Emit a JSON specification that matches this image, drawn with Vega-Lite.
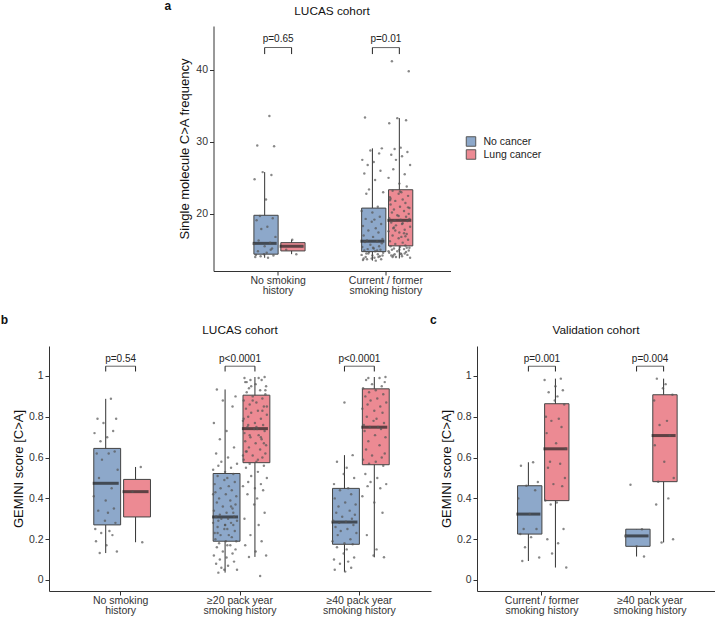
{
"$schema": "https://vega.github.io/schema/vega-lite/v6.json",
"padding": {"left": 0, "top": 0, "right": 0, "bottom": 0},
"config": {
 "font": "Liberation Sans",
 "view": {"stroke": null},
 "axis": {"grid": false, "domainColor": "#333", "tickColor": "#333", "labelColor": "#333", "titleColor": "#111", "labelFontSize": 10.5, "titleFontSize": 13, "titleFontWeight": "normal", "tickSize": 4, "labelFont": "Liberation Sans", "titleFont": "Liberation Sans"},
 "title": {"fontSize": 11.8, "fontWeight": "normal", "color": "#111", "font": "Liberation Sans"},
 "legend": {"labelFontSize": 10.5, "labelColor": "#222", "labelFont": "Liberation Sans", "layout": {"right": {"anchor": "middle"}}}
},
"datasets": {
 "aStats": [
  {"g":"NS","s":"N","lo":13.9,"q1":14.4,"med":15.9,"q3":19.8,"hi":25.8,"p":"p=0.65"},
  {"g":"NS","s":"L","lo":14.4,"q1":14.85,"med":15.5,"q3":16.0,"hi":16.4,"p":"p=0.65"},
  {"g":"CF","s":"N","lo":13.5,"q1":14.75,"med":16.2,"q3":20.8,"hi":29.1,"p":"p=0.01"},
  {"g":"CF","s":"L","lo":13.8,"q1":15.55,"med":19.1,"q3":23.35,"hi":33.3,"p":"p=0.01"}
 ],
 "aPts": [
  {"g":"NS","s":"N","v":33.6,"j":0.35},{"g":"NS","s":"N","v":29.5,"j":-0.55},{"g":"NS","s":"N","v":29.4,"j":0.7},{"g":"NS","s":"N","v":25.8,"j":-0.15},{"g":"NS","s":"N","v":25.4,"j":0.5},{"g":"NS","s":"N","v":24.8,"j":-0.75},{"g":"NS","s":"N","v":22.0,"j":0.1},{"g":"NS","s":"N","v":19.7,"j":-0.35},{"g":"NS","s":"N","v":19.4,"j":0.6},{"g":"NS","s":"N","v":19.1,"j":-0.6},{"g":"NS","s":"N","v":18.2,"j":0.2},{"g":"NS","s":"N","v":17.9,"j":-0.25},{"g":"NS","s":"N","v":16.8,"j":0.8},{"g":"NS","s":"N","v":16.3,"j":-0.45},{"g":"NS","s":"N","v":16.0,"j":0.4},{"g":"NS","s":"N","v":15.8,"j":-0.8},{"g":"NS","s":"N","v":15.5,"j":0.0},{"g":"NS","s":"N","v":15.2,"j":0.55},{"g":"NS","s":"N","v":14.8,"j":-0.5},{"g":"NS","s":"N","v":14.6,"j":0.15},{"g":"NS","s":"N","v":14.4,"j":-0.05},{"g":"NS","s":"N","v":14.2,"j":0.65},{"g":"NS","s":"N","v":14.0,"j":-0.7},{"g":"NS","s":"N","v":13.9,"j":0.25},{"g":"NS","s":"N","v":14.1,"j":-0.3},{"g":"NS","s":"N","v":15.0,"j":0.45},{"g":"NS","s":"N","v":14.3,"j":-0.65},
  {"g":"NS","s":"L","v":16.4,"j":0.05},{"g":"NS","s":"L","v":15.5,"j":0.75},{"g":"NS","s":"L","v":15.0,"j":-0.4},{"g":"NS","s":"L","v":14.4,"j":0.35},
  {"g":"CF","s":"N","v":33.4,"j":-0.55},{"g":"CF","s":"N","v":29.1,"j":0.7},{"g":"CF","s":"N","v":28.8,"j":-0.15},{"g":"CF","s":"N","v":28.4,"j":0.5},{"g":"CF","s":"N","v":27.5,"j":-0.75},{"g":"CF","s":"N","v":27.2,"j":0.1},{"g":"CF","s":"N","v":26.8,"j":-0.35},{"g":"CF","s":"N","v":26.0,"j":0.6},{"g":"CF","s":"N","v":25.6,"j":-0.6},{"g":"CF","s":"N","v":24.7,"j":0.2},{"g":"CF","s":"N","v":23.4,"j":-0.25},{"g":"CF","s":"N","v":23.0,"j":0.8},{"g":"CF","s":"N","v":22.8,"j":-0.45},{"g":"CF","s":"N","v":21.0,"j":0.4},{"g":"CF","s":"N","v":20.4,"j":-0.8},{"g":"CF","s":"N","v":20.2,"j":0.0},{"g":"CF","s":"N","v":19.6,"j":0.55},{"g":"CF","s":"N","v":19.3,"j":-0.5},{"g":"CF","s":"N","v":19.2,"j":0.15},{"g":"CF","s":"N","v":18.9,"j":-0.05},{"g":"CF","s":"N","v":18.6,"j":0.65},{"g":"CF","s":"N","v":18.3,"j":-0.7},{"g":"CF","s":"N","v":18.0,"j":0.25},{"g":"CF","s":"N","v":17.7,"j":-0.3},{"g":"CF","s":"N","v":17.4,"j":0.45},{"g":"CF","s":"N","v":17.0,"j":-0.65},{"g":"CF","s":"N","v":16.8,"j":0.05},{"g":"CF","s":"N","v":16.5,"j":0.75},{"g":"CF","s":"N","v":16.3,"j":-0.4},{"g":"CF","s":"N","v":16.2,"j":0.35},{"g":"CF","s":"N","v":16.1,"j":-0.55},{"g":"CF","s":"N","v":15.9,"j":0.7},{"g":"CF","s":"N","v":15.7,"j":-0.15},{"g":"CF","s":"N","v":15.5,"j":0.5},{"g":"CF","s":"N","v":15.4,"j":-0.75},{"g":"CF","s":"N","v":15.2,"j":0.1},{"g":"CF","s":"N","v":15.1,"j":-0.35},{"g":"CF","s":"N","v":15.0,"j":0.6},{"g":"CF","s":"N","v":14.9,"j":-0.6},{"g":"CF","s":"N","v":14.8,"j":0.2},{"g":"CF","s":"N","v":14.7,"j":-0.25},{"g":"CF","s":"N","v":14.6,"j":0.8},{"g":"CF","s":"N","v":14.5,"j":-0.45},{"g":"CF","s":"N","v":14.4,"j":0.4},{"g":"CF","s":"N","v":14.3,"j":-0.8},{"g":"CF","s":"N","v":14.2,"j":0.0},{"g":"CF","s":"N","v":14.1,"j":0.55},{"g":"CF","s":"N","v":14.0,"j":-0.5},{"g":"CF","s":"N","v":13.9,"j":0.15},{"g":"CF","s":"N","v":13.8,"j":-0.05},{"g":"CF","s":"N","v":13.7,"j":0.65},{"g":"CF","s":"N","v":13.6,"j":-0.7},{"g":"CF","s":"N","v":13.5,"j":0.25},{"g":"CF","s":"N","v":14.5,"j":-0.3},{"g":"CF","s":"N","v":14.0,"j":0.45},{"g":"CF","s":"N","v":13.8,"j":-0.65},{"g":"CF","s":"N","v":15.3,"j":0.05},{"g":"CF","s":"N","v":14.2,"j":0.75},{"g":"CF","s":"N","v":13.7,"j":-0.4},{"g":"CF","s":"N","v":14.9,"j":0.35},
  {"g":"CF","s":"L","v":41.2,"j":-0.55},{"g":"CF","s":"L","v":39.8,"j":0.7},{"g":"CF","s":"L","v":33.3,"j":-0.15},{"g":"CF","s":"L","v":33.0,"j":0.5},{"g":"CF","s":"L","v":32.6,"j":-0.75},{"g":"CF","s":"L","v":29.2,"j":0.1},{"g":"CF","s":"L","v":29.0,"j":-0.35},{"g":"CF","s":"L","v":28.6,"j":0.6},{"g":"CF","s":"L","v":28.2,"j":-0.6},{"g":"CF","s":"L","v":28.0,"j":0.2},{"g":"CF","s":"L","v":27.5,"j":-0.25},{"g":"CF","s":"L","v":26.8,"j":0.8},{"g":"CF","s":"L","v":26.2,"j":-0.45},{"g":"CF","s":"L","v":25.5,"j":0.4},{"g":"CF","s":"L","v":25.0,"j":-0.8},{"g":"CF","s":"L","v":24.2,"j":0.0},{"g":"CF","s":"L","v":23.8,"j":0.55},{"g":"CF","s":"L","v":23.2,"j":-0.5},{"g":"CF","s":"L","v":23.0,"j":0.15},{"g":"CF","s":"L","v":22.8,"j":-0.05},{"g":"CF","s":"L","v":22.5,"j":0.65},{"g":"CF","s":"L","v":22.3,"j":-0.7},{"g":"CF","s":"L","v":22.0,"j":0.25},{"g":"CF","s":"L","v":21.8,"j":-0.3},{"g":"CF","s":"L","v":21.5,"j":0.45},{"g":"CF","s":"L","v":21.3,"j":-0.65},{"g":"CF","s":"L","v":21.0,"j":0.05},{"g":"CF","s":"L","v":20.8,"j":0.75},{"g":"CF","s":"L","v":20.6,"j":-0.4},{"g":"CF","s":"L","v":20.4,"j":0.35},{"g":"CF","s":"L","v":20.2,"j":-0.55},{"g":"CF","s":"L","v":20.0,"j":0.7},{"g":"CF","s":"L","v":19.8,"j":-0.15},{"g":"CF","s":"L","v":19.6,"j":0.5},{"g":"CF","s":"L","v":19.4,"j":-0.75},{"g":"CF","s":"L","v":19.2,"j":0.1},{"g":"CF","s":"L","v":19.1,"j":-0.35},{"g":"CF","s":"L","v":19.0,"j":0.6},{"g":"CF","s":"L","v":18.8,"j":-0.6},{"g":"CF","s":"L","v":18.6,"j":0.2},{"g":"CF","s":"L","v":18.4,"j":-0.25},{"g":"CF","s":"L","v":18.2,"j":0.8},{"g":"CF","s":"L","v":18.0,"j":-0.45},{"g":"CF","s":"L","v":17.8,"j":0.4},{"g":"CF","s":"L","v":17.6,"j":-0.8},{"g":"CF","s":"L","v":17.4,"j":0.0},{"g":"CF","s":"L","v":17.2,"j":0.55},{"g":"CF","s":"L","v":17.0,"j":-0.5},{"g":"CF","s":"L","v":16.8,"j":0.15},{"g":"CF","s":"L","v":16.6,"j":-0.05},{"g":"CF","s":"L","v":16.4,"j":0.65},{"g":"CF","s":"L","v":16.2,"j":-0.7},{"g":"CF","s":"L","v":16.0,"j":0.25},{"g":"CF","s":"L","v":15.8,"j":-0.3},{"g":"CF","s":"L","v":15.6,"j":0.45},{"g":"CF","s":"L","v":15.5,"j":-0.65},{"g":"CF","s":"L","v":15.4,"j":0.05},{"g":"CF","s":"L","v":15.3,"j":0.75},{"g":"CF","s":"L","v":15.2,"j":-0.4},{"g":"CF","s":"L","v":15.1,"j":0.35},{"g":"CF","s":"L","v":15.0,"j":-0.55},{"g":"CF","s":"L","v":14.9,"j":0.7},{"g":"CF","s":"L","v":14.8,"j":-0.15},{"g":"CF","s":"L","v":14.7,"j":0.5},{"g":"CF","s":"L","v":14.6,"j":-0.75},{"g":"CF","s":"L","v":14.5,"j":0.1},{"g":"CF","s":"L","v":14.4,"j":-0.35},{"g":"CF","s":"L","v":14.3,"j":0.6},{"g":"CF","s":"L","v":14.2,"j":-0.6},{"g":"CF","s":"L","v":14.1,"j":0.2},{"g":"CF","s":"L","v":14.0,"j":-0.25},{"g":"CF","s":"L","v":13.9,"j":0.8},{"g":"CF","s":"L","v":14.2,"j":-0.45},{"g":"CF","s":"L","v":14.5,"j":0.4},{"g":"CF","s":"L","v":14.8,"j":-0.8},{"g":"CF","s":"L","v":15.0,"j":0.0},{"g":"CF","s":"L","v":15.3,"j":0.55},{"g":"CF","s":"L","v":14.0,"j":-0.5},{"g":"CF","s":"L","v":14.4,"j":0.15},{"g":"CF","s":"L","v":19.7,"j":-0.05},{"g":"CF","s":"L","v":20.9,"j":0.65},{"g":"CF","s":"L","v":21.9,"j":-0.7},{"g":"CF","s":"L","v":18.7,"j":0.25},{"g":"CF","s":"L","v":17.7,"j":-0.3},{"g":"CF","s":"L","v":16.9,"j":0.45},{"g":"CF","s":"L","v":22.1,"j":-0.65},{"g":"CF","s":"L","v":23.1,"j":0.05},{"g":"CF","s":"L","v":19.3,"j":0.75},{"g":"CF","s":"L","v":18.1,"j":-0.4},{"g":"CF","s":"L","v":17.3,"j":0.35}
 ],
 "bStats": [
  {"g":"NS","s":"N","lo":0.132,"q1":0.27,"med":0.474,"q3":0.645,"hi":0.888,"p":"p=0.54"},
  {"g":"NS","s":"L","lo":0.185,"q1":0.309,"med":0.433,"q3":0.493,"hi":0.554,"p":"p=0.54"},
  {"g":"P20","s":"N","lo":0.036,"q1":0.19,"med":0.309,"q3":0.522,"hi":0.934,"p":"p<0.0001"},
  {"g":"P20","s":"L","lo":0.113,"q1":0.575,"med":0.742,"q3":0.906,"hi":0.995,"p":"p<0.0001"},
  {"g":"P40","s":"N","lo":0.041,"q1":0.175,"med":0.284,"q3":0.449,"hi":0.612,"p":"p<0.0001"},
  {"g":"P40","s":"L","lo":0.111,"q1":0.565,"med":0.749,"q3":0.937,"hi":0.995,"p":"p<0.0001"}
 ],
 "bPts": [
  {"g":"NS","s":"N","v":0.888,"j":0.35},{"g":"NS","s":"N","v":0.79,"j":-0.55},{"g":"NS","s":"N","v":0.79,"j":0.7},{"g":"NS","s":"N","v":0.77,"j":-0.15},{"g":"NS","s":"N","v":0.73,"j":0.5},{"g":"NS","s":"N","v":0.72,"j":-0.75},{"g":"NS","s":"N","v":0.70,"j":0.1},{"g":"NS","s":"N","v":0.68,"j":-0.35},{"g":"NS","s":"N","v":0.63,"j":0.6},{"g":"NS","s":"N","v":0.62,"j":-0.6},{"g":"NS","s":"N","v":0.62,"j":0.2},{"g":"NS","s":"N","v":0.59,"j":-0.25},{"g":"NS","s":"N","v":0.54,"j":0.8},{"g":"NS","s":"N","v":0.50,"j":-0.45},{"g":"NS","s":"N","v":0.45,"j":0.4},{"g":"NS","s":"N","v":0.41,"j":-0.8},{"g":"NS","s":"N","v":0.39,"j":0.0},{"g":"NS","s":"N","v":0.35,"j":0.55},{"g":"NS","s":"N","v":0.34,"j":-0.5},{"g":"NS","s":"N","v":0.33,"j":0.15},{"g":"NS","s":"N","v":0.29,"j":-0.05},{"g":"NS","s":"N","v":0.28,"j":0.65},{"g":"NS","s":"N","v":0.25,"j":-0.7},{"g":"NS","s":"N","v":0.24,"j":0.25},{"g":"NS","s":"N","v":0.23,"j":-0.3},{"g":"NS","s":"N","v":0.22,"j":0.45},{"g":"NS","s":"N","v":0.19,"j":-0.65},{"g":"NS","s":"N","v":0.17,"j":0.05},{"g":"NS","s":"N","v":0.14,"j":0.75},{"g":"NS","s":"N","v":0.132,"j":-0.4},
  {"g":"NS","s":"L","v":0.554,"j":0.35},{"g":"NS","s":"L","v":0.433,"j":-0.2},{"g":"NS","s":"L","v":0.185,"j":0.45},
  {"g":"P20","s":"N","v":0.934,"j":-0.55},{"g":"P20","s":"N","v":0.90,"j":0.7},{"g":"P20","s":"N","v":0.88,"j":-0.15},{"g":"P20","s":"N","v":0.85,"j":0.5},{"g":"P20","s":"N","v":0.77,"j":-0.75},{"g":"P20","s":"N","v":0.73,"j":0.1},{"g":"P20","s":"N","v":0.69,"j":-0.35},{"g":"P20","s":"N","v":0.65,"j":0.6},{"g":"P20","s":"N","v":0.62,"j":-0.6},{"g":"P20","s":"N","v":0.60,"j":0.2},{"g":"P20","s":"N","v":0.58,"j":-0.25},{"g":"P20","s":"N","v":0.57,"j":0.8},{"g":"P20","s":"N","v":0.56,"j":-0.45},{"g":"P20","s":"N","v":0.55,"j":0.4},{"g":"P20","s":"N","v":0.54,"j":-0.8},{"g":"P20","s":"N","v":0.53,"j":0.0},{"g":"P20","s":"N","v":0.52,"j":0.55},{"g":"P20","s":"N","v":0.51,"j":-0.5},{"g":"P20","s":"N","v":0.50,"j":0.15},{"g":"P20","s":"N","v":0.49,"j":-0.05},{"g":"P20","s":"N","v":0.48,"j":0.65},{"g":"P20","s":"N","v":0.47,"j":-0.7},{"g":"P20","s":"N","v":0.46,"j":0.25},{"g":"P20","s":"N","v":0.45,"j":-0.3},{"g":"P20","s":"N","v":0.44,"j":0.45},{"g":"P20","s":"N","v":0.43,"j":-0.65},{"g":"P20","s":"N","v":0.42,"j":0.05},{"g":"P20","s":"N","v":0.41,"j":0.75},{"g":"P20","s":"N","v":0.40,"j":-0.4},{"g":"P20","s":"N","v":0.39,"j":0.35},{"g":"P20","s":"N","v":0.38,"j":-0.55},{"g":"P20","s":"N","v":0.37,"j":0.7},{"g":"P20","s":"N","v":0.36,"j":-0.15},{"g":"P20","s":"N","v":0.35,"j":0.5},{"g":"P20","s":"N","v":0.34,"j":-0.75},{"g":"P20","s":"N","v":0.33,"j":0.1},{"g":"P20","s":"N","v":0.32,"j":-0.35},{"g":"P20","s":"N","v":0.31,"j":0.6},{"g":"P20","s":"N","v":0.31,"j":-0.6},{"g":"P20","s":"N","v":0.30,"j":0.2},{"g":"P20","s":"N","v":0.30,"j":-0.25},{"g":"P20","s":"N","v":0.29,"j":0.8},{"g":"P20","s":"N","v":0.29,"j":-0.45},{"g":"P20","s":"N","v":0.28,"j":0.4},{"g":"P20","s":"N","v":0.28,"j":-0.8},{"g":"P20","s":"N","v":0.27,"j":0.0},{"g":"P20","s":"N","v":0.27,"j":0.55},{"g":"P20","s":"N","v":0.26,"j":-0.5},{"g":"P20","s":"N","v":0.25,"j":0.15},{"g":"P20","s":"N","v":0.25,"j":-0.05},{"g":"P20","s":"N","v":0.24,"j":0.65},{"g":"P20","s":"N","v":0.23,"j":-0.7},{"g":"P20","s":"N","v":0.22,"j":0.25},{"g":"P20","s":"N","v":0.22,"j":-0.3},{"g":"P20","s":"N","v":0.21,"j":0.45},{"g":"P20","s":"N","v":0.20,"j":-0.65},{"g":"P20","s":"N","v":0.19,"j":0.05},{"g":"P20","s":"N","v":0.19,"j":0.75},{"g":"P20","s":"N","v":0.18,"j":-0.4},{"g":"P20","s":"N","v":0.17,"j":0.35},{"g":"P20","s":"N","v":0.16,"j":-0.55},{"g":"P20","s":"N","v":0.15,"j":0.7},{"g":"P20","s":"N","v":0.14,"j":-0.15},{"g":"P20","s":"N","v":0.13,"j":0.5},{"g":"P20","s":"N","v":0.12,"j":-0.75},{"g":"P20","s":"N","v":0.11,"j":0.1},{"g":"P20","s":"N","v":0.10,"j":-0.35},{"g":"P20","s":"N","v":0.09,"j":0.6},{"g":"P20","s":"N","v":0.08,"j":-0.6},{"g":"P20","s":"N","v":0.07,"j":0.2},{"g":"P20","s":"N","v":0.06,"j":-0.25},{"g":"P20","s":"N","v":0.05,"j":0.8},{"g":"P20","s":"N","v":0.036,"j":-0.45},{"g":"P20","s":"N","v":0.36,"j":0.4},{"g":"P20","s":"N","v":0.42,"j":-0.8},{"g":"P20","s":"N","v":0.27,"j":0.0},{"g":"P20","s":"N","v":0.33,"j":0.55},{"g":"P20","s":"N","v":0.23,"j":-0.5},{"g":"P20","s":"N","v":0.17,"j":0.15},{"g":"P20","s":"N","v":0.05,"j":-0.05},
  {"g":"P20","s":"L","v":0.995,"j":0.65},{"g":"P20","s":"L","v":0.99,"j":-0.7},{"g":"P20","s":"L","v":0.99,"j":0.25},{"g":"P20","s":"L","v":0.98,"j":-0.3},{"g":"P20","s":"L","v":0.98,"j":0.45},{"g":"P20","s":"L","v":0.97,"j":-0.65},{"g":"P20","s":"L","v":0.96,"j":0.05},{"g":"P20","s":"L","v":0.95,"j":0.75},{"g":"P20","s":"L","v":0.94,"j":-0.4},{"g":"P20","s":"L","v":0.93,"j":0.35},{"g":"P20","s":"L","v":0.92,"j":-0.55},{"g":"P20","s":"L","v":0.91,"j":0.7},{"g":"P20","s":"L","v":0.90,"j":-0.15},{"g":"P20","s":"L","v":0.89,"j":0.5},{"g":"P20","s":"L","v":0.88,"j":-0.75},{"g":"P20","s":"L","v":0.87,"j":0.1},{"g":"P20","s":"L","v":0.86,"j":-0.35},{"g":"P20","s":"L","v":0.85,"j":0.6},{"g":"P20","s":"L","v":0.84,"j":-0.6},{"g":"P20","s":"L","v":0.83,"j":0.2},{"g":"P20","s":"L","v":0.82,"j":-0.25},{"g":"P20","s":"L","v":0.81,"j":0.8},{"g":"P20","s":"L","v":0.80,"j":-0.45},{"g":"P20","s":"L","v":0.79,"j":0.4},{"g":"P20","s":"L","v":0.78,"j":-0.8},{"g":"P20","s":"L","v":0.77,"j":0.0},{"g":"P20","s":"L","v":0.76,"j":0.55},{"g":"P20","s":"L","v":0.75,"j":-0.5},{"g":"P20","s":"L","v":0.74,"j":0.15},{"g":"P20","s":"L","v":0.74,"j":-0.05},{"g":"P20","s":"L","v":0.73,"j":0.65},{"g":"P20","s":"L","v":0.72,"j":-0.7},{"g":"P20","s":"L","v":0.71,"j":0.25},{"g":"P20","s":"L","v":0.70,"j":-0.3},{"g":"P20","s":"L","v":0.69,"j":0.45},{"g":"P20","s":"L","v":0.68,"j":-0.65},{"g":"P20","s":"L","v":0.67,"j":0.05},{"g":"P20","s":"L","v":0.66,"j":0.75},{"g":"P20","s":"L","v":0.65,"j":-0.4},{"g":"P20","s":"L","v":0.64,"j":0.35},{"g":"P20","s":"L","v":0.63,"j":-0.55},{"g":"P20","s":"L","v":0.62,"j":0.7},{"g":"P20","s":"L","v":0.61,"j":-0.15},{"g":"P20","s":"L","v":0.60,"j":0.5},{"g":"P20","s":"L","v":0.59,"j":-0.75},{"g":"P20","s":"L","v":0.58,"j":0.1},{"g":"P20","s":"L","v":0.57,"j":-0.35},{"g":"P20","s":"L","v":0.56,"j":0.6},{"g":"P20","s":"L","v":0.55,"j":-0.6},{"g":"P20","s":"L","v":0.53,"j":0.2},{"g":"P20","s":"L","v":0.51,"j":-0.25},{"g":"P20","s":"L","v":0.50,"j":0.8},{"g":"P20","s":"L","v":0.48,"j":-0.45},{"g":"P20","s":"L","v":0.47,"j":0.4},{"g":"P20","s":"L","v":0.46,"j":-0.8},{"g":"P20","s":"L","v":0.45,"j":0.0},{"g":"P20","s":"L","v":0.44,"j":0.55},{"g":"P20","s":"L","v":0.42,"j":-0.5},{"g":"P20","s":"L","v":0.40,"j":0.15},{"g":"P20","s":"L","v":0.37,"j":-0.05},{"g":"P20","s":"L","v":0.33,"j":0.65},{"g":"P20","s":"L","v":0.30,"j":-0.7},{"g":"P20","s":"L","v":0.27,"j":0.25},{"g":"P20","s":"L","v":0.22,"j":-0.3},{"g":"P20","s":"L","v":0.19,"j":0.45},{"g":"P20","s":"L","v":0.17,"j":-0.65},{"g":"P20","s":"L","v":0.14,"j":0.05},{"g":"P20","s":"L","v":0.12,"j":0.75},{"g":"P20","s":"L","v":0.113,"j":-0.4},{"g":"P20","s":"L","v":0.02,"j":0.35},{"g":"P20","s":"L","v":0.97,"j":-0.55},{"g":"P20","s":"L","v":0.93,"j":0.7},{"g":"P20","s":"L","v":0.88,"j":-0.15},{"g":"P20","s":"L","v":0.83,"j":0.5},{"g":"P20","s":"L","v":0.79,"j":-0.75},{"g":"P20","s":"L","v":0.75,"j":0.1},{"g":"P20","s":"L","v":0.71,"j":-0.35},{"g":"P20","s":"L","v":0.67,"j":0.6},{"g":"P20","s":"L","v":0.63,"j":-0.6},{"g":"P20","s":"L","v":0.59,"j":0.2},{"g":"P20","s":"L","v":0.95,"j":-0.25},{"g":"P20","s":"L","v":0.85,"j":0.8},{"g":"P20","s":"L","v":0.76,"j":-0.45},{"g":"P20","s":"L","v":0.70,"j":0.4},{"g":"P20","s":"L","v":0.61,"j":-0.8},
  {"g":"P40","s":"N","v":0.87,"j":0.0},{"g":"P40","s":"N","v":0.612,"j":0.55},{"g":"P40","s":"N","v":0.58,"j":-0.5},{"g":"P40","s":"N","v":0.55,"j":0.15},{"g":"P40","s":"N","v":0.52,"j":-0.05},{"g":"P40","s":"N","v":0.50,"j":0.65},{"g":"P40","s":"N","v":0.47,"j":-0.7},{"g":"P40","s":"N","v":0.45,"j":0.25},{"g":"P40","s":"N","v":0.44,"j":-0.3},{"g":"P40","s":"N","v":0.42,"j":0.45},{"g":"P40","s":"N","v":0.40,"j":-0.65},{"g":"P40","s":"N","v":0.38,"j":0.05},{"g":"P40","s":"N","v":0.37,"j":0.75},{"g":"P40","s":"N","v":0.36,"j":-0.4},{"g":"P40","s":"N","v":0.34,"j":0.35},{"g":"P40","s":"N","v":0.33,"j":-0.55},{"g":"P40","s":"N","v":0.32,"j":0.7},{"g":"P40","s":"N","v":0.31,"j":-0.15},{"g":"P40","s":"N","v":0.30,"j":0.5},{"g":"P40","s":"N","v":0.29,"j":-0.75},{"g":"P40","s":"N","v":0.285,"j":0.1},{"g":"P40","s":"N","v":0.28,"j":-0.35},{"g":"P40","s":"N","v":0.27,"j":0.6},{"g":"P40","s":"N","v":0.26,"j":-0.6},{"g":"P40","s":"N","v":0.25,"j":0.2},{"g":"P40","s":"N","v":0.24,"j":-0.25},{"g":"P40","s":"N","v":0.23,"j":0.8},{"g":"P40","s":"N","v":0.22,"j":-0.45},{"g":"P40","s":"N","v":0.20,"j":0.4},{"g":"P40","s":"N","v":0.19,"j":-0.8},{"g":"P40","s":"N","v":0.18,"j":0.0},{"g":"P40","s":"N","v":0.175,"j":0.55},{"g":"P40","s":"N","v":0.16,"j":-0.5},{"g":"P40","s":"N","v":0.15,"j":0.15},{"g":"P40","s":"N","v":0.13,"j":-0.05},{"g":"P40","s":"N","v":0.11,"j":0.65},{"g":"P40","s":"N","v":0.10,"j":-0.7},{"g":"P40","s":"N","v":0.09,"j":0.25},{"g":"P40","s":"N","v":0.08,"j":-0.3},{"g":"P40","s":"N","v":0.06,"j":0.45},{"g":"P40","s":"N","v":0.05,"j":-0.65},{"g":"P40","s":"N","v":0.041,"j":0.05},
  {"g":"P40","s":"L","v":0.995,"j":0.75},{"g":"P40","s":"L","v":0.99,"j":-0.4},{"g":"P40","s":"L","v":0.99,"j":0.35},{"g":"P40","s":"L","v":0.98,"j":-0.55},{"g":"P40","s":"L","v":0.97,"j":0.7},{"g":"P40","s":"L","v":0.96,"j":-0.15},{"g":"P40","s":"L","v":0.95,"j":0.5},{"g":"P40","s":"L","v":0.94,"j":-0.75},{"g":"P40","s":"L","v":0.93,"j":0.1},{"g":"P40","s":"L","v":0.92,"j":-0.35},{"g":"P40","s":"L","v":0.91,"j":0.6},{"g":"P40","s":"L","v":0.90,"j":-0.6},{"g":"P40","s":"L","v":0.89,"j":0.2},{"g":"P40","s":"L","v":0.88,"j":-0.25},{"g":"P40","s":"L","v":0.87,"j":0.8},{"g":"P40","s":"L","v":0.86,"j":-0.45},{"g":"P40","s":"L","v":0.85,"j":0.4},{"g":"P40","s":"L","v":0.84,"j":-0.8},{"g":"P40","s":"L","v":0.83,"j":0.0},{"g":"P40","s":"L","v":0.82,"j":0.55},{"g":"P40","s":"L","v":0.80,"j":-0.5},{"g":"P40","s":"L","v":0.79,"j":0.15},{"g":"P40","s":"L","v":0.78,"j":-0.05},{"g":"P40","s":"L","v":0.77,"j":0.65},{"g":"P40","s":"L","v":0.76,"j":-0.7},{"g":"P40","s":"L","v":0.75,"j":0.25},{"g":"P40","s":"L","v":0.75,"j":-0.3},{"g":"P40","s":"L","v":0.74,"j":0.45},{"g":"P40","s":"L","v":0.73,"j":-0.65},{"g":"P40","s":"L","v":0.71,"j":0.05},{"g":"P40","s":"L","v":0.70,"j":0.75},{"g":"P40","s":"L","v":0.68,"j":-0.4},{"g":"P40","s":"L","v":0.66,"j":0.35},{"g":"P40","s":"L","v":0.64,"j":-0.55},{"g":"P40","s":"L","v":0.62,"j":0.7},{"g":"P40","s":"L","v":0.61,"j":-0.15},{"g":"P40","s":"L","v":0.60,"j":0.5},{"g":"P40","s":"L","v":0.59,"j":-0.75},{"g":"P40","s":"L","v":0.58,"j":0.1},{"g":"P40","s":"L","v":0.57,"j":-0.35},{"g":"P40","s":"L","v":0.56,"j":0.6},{"g":"P40","s":"L","v":0.52,"j":-0.6},{"g":"P40","s":"L","v":0.50,"j":0.2},{"g":"P40","s":"L","v":0.48,"j":-0.25},{"g":"P40","s":"L","v":0.47,"j":0.8},{"g":"P40","s":"L","v":0.46,"j":-0.45},{"g":"P40","s":"L","v":0.45,"j":0.4},{"g":"P40","s":"L","v":0.41,"j":-0.8},{"g":"P40","s":"L","v":0.38,"j":0.0},{"g":"P40","s":"L","v":0.33,"j":0.55},{"g":"P40","s":"L","v":0.22,"j":-0.5},{"g":"P40","s":"L","v":0.15,"j":0.15},{"g":"P40","s":"L","v":0.12,"j":-0.05},{"g":"P40","s":"L","v":0.111,"j":0.65}
 ],
 "cStats": [
  {"g":"CF","s":"N","lo":0.093,"q1":0.225,"med":0.323,"q3":0.462,"hi":0.577,"p":"p=0.001"},
  {"g":"CF","s":"L","lo":0.061,"q1":0.389,"med":0.643,"q3":0.864,"hi":0.987,"p":"p=0.001"},
  {"g":"P40","s":"N","lo":0.115,"q1":0.165,"med":0.216,"q3":0.249,"hi":0.249,"p":"p=0.004"},
  {"g":"P40","s":"L","lo":0.184,"q1":0.482,"med":0.708,"q3":0.908,"hi":0.987,"p":"p=0.004"}
 ],
 "cPts": [
  {"g":"CF","s":"N","v":0.577,"j":0.35},{"g":"CF","s":"N","v":0.56,"j":-0.55},{"g":"CF","s":"N","v":0.48,"j":0.7},{"g":"CF","s":"N","v":0.462,"j":-0.15},{"g":"CF","s":"N","v":0.44,"j":0.5},{"g":"CF","s":"N","v":0.40,"j":-0.75},{"g":"CF","s":"N","v":0.323,"j":0.1},{"g":"CF","s":"N","v":0.25,"j":-0.35},{"g":"CF","s":"N","v":0.25,"j":0.6},{"g":"CF","s":"N","v":0.225,"j":-0.6},{"g":"CF","s":"N","v":0.21,"j":0.2},{"g":"CF","s":"N","v":0.16,"j":-0.25},{"g":"CF","s":"N","v":0.11,"j":0.8},{"g":"CF","s":"N","v":0.093,"j":-0.45},
  {"g":"CF","s":"L","v":0.987,"j":0.4},{"g":"CF","s":"L","v":0.98,"j":-0.8},{"g":"CF","s":"L","v":0.95,"j":0.0},{"g":"CF","s":"L","v":0.93,"j":0.55},{"g":"CF","s":"L","v":0.92,"j":-0.5},{"g":"CF","s":"L","v":0.90,"j":0.15},{"g":"CF","s":"L","v":0.88,"j":-0.05},{"g":"CF","s":"L","v":0.86,"j":0.65},{"g":"CF","s":"L","v":0.80,"j":-0.7},{"g":"CF","s":"L","v":0.79,"j":0.25},{"g":"CF","s":"L","v":0.78,"j":-0.3},{"g":"CF","s":"L","v":0.75,"j":0.45},{"g":"CF","s":"L","v":0.72,"j":-0.65},{"g":"CF","s":"L","v":0.67,"j":0.05},{"g":"CF","s":"L","v":0.643,"j":0.75},{"g":"CF","s":"L","v":0.58,"j":-0.4},{"g":"CF","s":"L","v":0.57,"j":0.35},{"g":"CF","s":"L","v":0.55,"j":-0.55},{"g":"CF","s":"L","v":0.50,"j":0.7},{"g":"CF","s":"L","v":0.47,"j":-0.15},{"g":"CF","s":"L","v":0.46,"j":0.5},{"g":"CF","s":"L","v":0.39,"j":-0.75},{"g":"CF","s":"L","v":0.38,"j":0.1},{"g":"CF","s":"L","v":0.37,"j":-0.35},{"g":"CF","s":"L","v":0.25,"j":0.6},{"g":"CF","s":"L","v":0.20,"j":-0.6},{"g":"CF","s":"L","v":0.18,"j":0.2},{"g":"CF","s":"L","v":0.13,"j":-0.25},{"g":"CF","s":"L","v":0.061,"j":0.8},
  {"g":"P40","s":"N","v":0.467,"j":-0.45},{"g":"P40","s":"N","v":0.249,"j":0.4},{"g":"P40","s":"N","v":0.216,"j":-0.8},{"g":"P40","s":"N","v":0.165,"j":0.0},{"g":"P40","s":"N","v":0.115,"j":0.55},
  {"g":"P40","s":"L","v":0.987,"j":-0.5},{"g":"P40","s":"L","v":0.96,"j":0.15},{"g":"P40","s":"L","v":0.94,"j":-0.05},{"g":"P40","s":"L","v":0.908,"j":0.65},{"g":"P40","s":"L","v":0.88,"j":-0.7},{"g":"P40","s":"L","v":0.78,"j":0.25},{"g":"P40","s":"L","v":0.76,"j":-0.3},{"g":"P40","s":"L","v":0.708,"j":0.45},{"g":"P40","s":"L","v":0.66,"j":-0.65},{"g":"P40","s":"L","v":0.58,"j":0.05},{"g":"P40","s":"L","v":0.50,"j":0.75},{"g":"P40","s":"L","v":0.482,"j":-0.4},{"g":"P40","s":"L","v":0.40,"j":0.35},{"g":"P40","s":"L","v":0.37,"j":-0.55},{"g":"P40","s":"L","v":0.20,"j":0.7},{"g":"P40","s":"L","v":0.184,"j":-0.15}
 ]
},
"resolve": {"scale": {"color": "independent"}, "legend": {"color": "independent"}},
"center": true,
"spacing": 18,
"vconcat": [
 {
  "title": {"text": "a", "orient": "left", "anchor": "end", "angle": 0, "align": "right", "baseline": "top", "frame": "bounds", "fontWeight": "bold", "fontSize": 12, "offset": 1, "dy": -5},
  "resolve": {"scale": {"color": "independent"}, "legend": {"color": "independent"}},
  "vconcat": [
   {
    "width": 237, "height": 245,
    "title": {"text": "LUCAS cohort", "frame": "group", "offset": 8},
    "encoding": {
     "x": {"field": "g", "type": "nominal", "scale": {"domain": ["NS", "CF"], "paddingInner": 0.5, "paddingOuter": 0.35},
       "axis": {"title": null, "labelAngle": 0, "bandPosition": 0.5, "labelPadding": 0, "labelLineHeight": 10.5,
         "labelExpr": "datum.value == 'NS' ? ['No smoking', 'history'] : ['Current / former', 'smoking history']"}}
    },
    "layer": [
     {"data": {"name": "aStats"}, "mark": {"type": "rule", "color": "#333", "strokeWidth": 1},
      "encoding": {"xOffset": {"field": "s", "type": "nominal", "scale": {"domain": ["N", "L"]}},
       "y": {"field": "lo", "type": "quantitative", "scale": {"domain": [12.06, 46.1], "nice": false, "zero": false},
         "axis": {"title": "Single molecule C>A frequency", "values": [20, 30, 40], "titlePadding": 4}},
       "y2": {"field": "hi"}}},
     {"data": {"name": "aStats"}, "mark": {"type": "bar", "stroke": "#444", "strokeWidth": 1, "width": {"band": 0.9}},
      "encoding": {"xOffset": {"field": "s", "type": "nominal", "scale": {"domain": ["N", "L"]}},
       "y": {"field": "q1", "type": "quantitative"}, "y2": {"field": "q3"},
       "color": {"field": "s", "type": "nominal", "scale": {"domain": ["N", "L"], "range": ["#8DA8CA", "#EC8A93"]},
         "legend": {"title": null, "orient": "right", "offset": 6, "padding": 9, "labelOffset": 7, "labelExpr": "datum.label == 'N' ? 'No cancer' : 'Lung cancer'", "symbolType": "square", "symbolSize": 90, "symbolStrokeColor": "#555", "symbolStrokeWidth": 1, "rowPadding": -3}}}},
     {"data": {"name": "aStats"}, "mark": {"type": "tick", "color": "#222", "thickness": 3, "size": 24},
      "encoding": {"xOffset": {"field": "s", "type": "nominal", "scale": {"domain": ["N", "L"]}}, "y": {"field": "med", "type": "quantitative"}}},
     {"data": {"name": "aPts"}, "transform": [{"filter": "datum.s == 'N'"}], "mark": {"type": "circle", "size": 6, "color": "#555", "opacity": 0.7},
      "encoding": {"xOffset": {"field": "j", "type": "quantitative", "scale": {"domain": [-1, 3]}}, "y": {"field": "v", "type": "quantitative"}}},
     {"data": {"name": "aPts"}, "transform": [{"filter": "datum.s == 'L'"}], "mark": {"type": "circle", "size": 6, "color": "#555", "opacity": 0.7},
      "encoding": {"xOffset": {"field": "j", "type": "quantitative", "scale": {"domain": [-3, 1]}}, "y": {"field": "v", "type": "quantitative"}}},
     {"data": {"name": "aStats"}, "transform": [{"filter": "datum.s == 'N'"}], "mark": {"type": "tick", "color": "#222", "thickness": 1, "size": 27},
      "encoding": {"y": {"datum": 43.1}}},
     {"data": {"name": "aStats"}, "mark": {"type": "rule", "color": "#222", "strokeWidth": 1},
      "encoding": {"xOffset": {"field": "s", "type": "nominal", "scale": {"domain": ["N", "L"]}}, "y": {"datum": 43.1}, "y2": {"datum": 42.2}}},
     {"data": {"name": "aStats"}, "transform": [{"filter": "datum.s == 'N'"}], "mark": {"type": "text", "baseline": "bottom", "fontSize": 10, "color": "#222"},
      "encoding": {"y": {"datum": 43.6}, "text": {"field": "p"}}}
    ],
    "resolve": {"scale": {"xOffset": "independent"}}
   }
  ]
 },
 {
  "spacing": -1,
  "resolve": {"scale": {"color": "independent"}, "legend": {"color": "independent"}},
  "hconcat": [
   {
    "title": {"text": "b", "orient": "left", "anchor": "end", "angle": 0, "align": "right", "baseline": "top", "frame": "bounds", "fontWeight": "bold", "fontSize": 12, "offset": -3, "dy": -10},
    "resolve": {"scale": {"color": "independent"}, "legend": {"color": "independent"}},
    "vconcat": [
     {
      "width": 382, "height": 245,
      "title": {"text": "LUCAS cohort", "frame": "group", "offset": 9},
      "encoding": {
       "x": {"field": "g", "type": "nominal", "scale": {"domain": ["NS", "P20", "P40"], "paddingInner": 0.5, "paddingOuter": 0.35},
         "axis": {"title": null, "labelAngle": 0, "bandPosition": 0.5, "labelPadding": 0, "labelLineHeight": 10.5,
           "labelExpr": "datum.value == 'NS' ? ['No smoking', 'history'] : datum.value == 'P20' ? ['≥20 pack year', 'smoking history'] : ['≥40 pack year', 'smoking history']"}}
      },
      "layer": [
       {"data": {"name": "bStats"}, "mark": {"type": "rule", "color": "#333", "strokeWidth": 1},
        "encoding": {"xOffset": {"field": "s", "type": "nominal", "scale": {"domain": ["N", "L"]}},
         "y": {"field": "lo", "type": "quantitative", "scale": {"domain": [-0.054, 1.147], "nice": false, "zero": false},
           "axis": {"title": "GEMINI score [C>A]", "values": [0, 0.2, 0.4, 0.6, 0.8, 1], "format": "~g", "titlePadding": 3}},
         "y2": {"field": "hi"}}},
       {"data": {"name": "bStats"}, "mark": {"type": "bar", "stroke": "#444", "strokeWidth": 1, "width": {"band": 0.9}},
        "encoding": {"xOffset": {"field": "s", "type": "nominal", "scale": {"domain": ["N", "L"]}},
         "y": {"field": "q1", "type": "quantitative"}, "y2": {"field": "q3"},
         "color": {"field": "s", "type": "nominal", "scale": {"domain": ["N", "L"], "range": ["#8DA8CA", "#EC8A93"]}, "legend": null}}},
       {"data": {"name": "bStats"}, "mark": {"type": "tick", "color": "#222", "thickness": 3, "size": 26},
        "encoding": {"xOffset": {"field": "s", "type": "nominal", "scale": {"domain": ["N", "L"]}}, "y": {"field": "med", "type": "quantitative"}}},
       {"data": {"name": "bPts"}, "transform": [{"filter": "datum.s == 'N'"}], "mark": {"type": "circle", "size": 6, "color": "#555", "opacity": 0.7},
        "encoding": {"xOffset": {"field": "j", "type": "quantitative", "scale": {"domain": [-1, 3]}}, "y": {"field": "v", "type": "quantitative"}}},
       {"data": {"name": "bPts"}, "transform": [{"filter": "datum.s == 'L'"}], "mark": {"type": "circle", "size": 6, "color": "#555", "opacity": 0.7},
        "encoding": {"xOffset": {"field": "j", "type": "quantitative", "scale": {"domain": [-3, 1]}}, "y": {"field": "v", "type": "quantitative"}}},
       {"data": {"name": "bStats"}, "transform": [{"filter": "datum.s == 'N'"}], "mark": {"type": "tick", "color": "#222", "thickness": 1, "size": 30},
        "encoding": {"y": {"datum": 1.048}}},
       {"data": {"name": "bStats"}, "mark": {"type": "rule", "color": "#222", "strokeWidth": 1},
        "encoding": {"xOffset": {"field": "s", "type": "nominal", "scale": {"domain": ["N", "L"]}}, "y": {"datum": 1.048}, "y2": {"datum": 1.022}}},
       {"data": {"name": "bStats"}, "transform": [{"filter": "datum.s == 'N'"}], "mark": {"type": "text", "baseline": "bottom", "fontSize": 10, "color": "#222"},
        "encoding": {"y": {"datum": 1.058}, "text": {"field": "p"}}}
      ],
      "resolve": {"scale": {"xOffset": "independent"}}
     }
    ]
   },
   {
    "title": {"text": "c", "orient": "left", "anchor": "end", "angle": 0, "align": "right", "baseline": "top", "frame": "bounds", "fontWeight": "bold", "fontSize": 12, "offset": -3, "dy": -10},
    "resolve": {"scale": {"color": "independent"}, "legend": {"color": "independent"}},
    "vconcat": [
     {
      "width": 238, "height": 245,
      "title": {"text": "Validation cohort", "frame": "group", "offset": 9},
      "encoding": {
       "x": {"field": "g", "type": "nominal", "scale": {"domain": ["CF", "P40"], "paddingInner": 0.5, "paddingOuter": 0.35},
         "axis": {"title": null, "labelAngle": 0, "bandPosition": 0.5, "labelPadding": 0, "labelLineHeight": 10.5,
           "labelExpr": "datum.value == 'CF' ? ['Current / former', 'smoking history'] : ['≥40 pack year', 'smoking history']"}}
      },
      "layer": [
       {"data": {"name": "cStats"}, "mark": {"type": "rule", "color": "#333", "strokeWidth": 1},
        "encoding": {"xOffset": {"field": "s", "type": "nominal", "scale": {"domain": ["N", "L"]}},
         "y": {"field": "lo", "type": "quantitative", "scale": {"domain": [-0.054, 1.147], "nice": false, "zero": false},
           "axis": {"title": "GEMINI score [C>A]", "values": [0, 0.2, 0.4, 0.6, 0.8, 1], "format": "~g", "titlePadding": 3}},
         "y2": {"field": "hi"}}},
       {"data": {"name": "cStats"}, "mark": {"type": "bar", "stroke": "#444", "strokeWidth": 1, "width": {"band": 0.9}},
        "encoding": {"xOffset": {"field": "s", "type": "nominal", "scale": {"domain": ["N", "L"]}},
         "y": {"field": "q1", "type": "quantitative"}, "y2": {"field": "q3"},
         "color": {"field": "s", "type": "nominal", "scale": {"domain": ["N", "L"], "range": ["#8DA8CA", "#EC8A93"]}, "legend": null}}},
       {"data": {"name": "cStats"}, "mark": {"type": "tick", "color": "#222", "thickness": 3, "size": 24},
        "encoding": {"xOffset": {"field": "s", "type": "nominal", "scale": {"domain": ["N", "L"]}}, "y": {"field": "med", "type": "quantitative"}}},
       {"data": {"name": "cPts"}, "transform": [{"filter": "datum.s == 'N'"}], "mark": {"type": "circle", "size": 6, "color": "#555", "opacity": 0.7},
        "encoding": {"xOffset": {"field": "j", "type": "quantitative", "scale": {"domain": [-1, 3]}}, "y": {"field": "v", "type": "quantitative"}}},
       {"data": {"name": "cPts"}, "transform": [{"filter": "datum.s == 'L'"}], "mark": {"type": "circle", "size": 6, "color": "#555", "opacity": 0.7},
        "encoding": {"xOffset": {"field": "j", "type": "quantitative", "scale": {"domain": [-3, 1]}}, "y": {"field": "v", "type": "quantitative"}}},
       {"data": {"name": "cStats"}, "transform": [{"filter": "datum.s == 'N'"}], "mark": {"type": "tick", "color": "#222", "thickness": 1, "size": 27},
        "encoding": {"y": {"datum": 1.048}}},
       {"data": {"name": "cStats"}, "mark": {"type": "rule", "color": "#222", "strokeWidth": 1},
        "encoding": {"xOffset": {"field": "s", "type": "nominal", "scale": {"domain": ["N", "L"]}}, "y": {"datum": 1.048}, "y2": {"datum": 1.022}}},
       {"data": {"name": "cStats"}, "transform": [{"filter": "datum.s == 'N'"}], "mark": {"type": "text", "baseline": "bottom", "fontSize": 10, "color": "#222"},
        "encoding": {"y": {"datum": 1.058}, "text": {"field": "p"}}}
      ],
      "resolve": {"scale": {"xOffset": "independent"}}
     }
    ]
   }
  ]
 }
]
}
